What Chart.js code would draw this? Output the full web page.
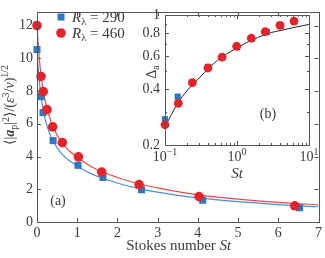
<!DOCTYPE html>
<html>
<head>
<meta charset="utf-8">
<script src="https://cdn.jsdelivr.net/npm/chart.js@4.4.1/dist/chart.umd.min.js"></script>
<style>
  html, body { margin: 0; padding: 0; background: #fff; }
  #wrap { position: relative; width: 325px; height: 258px; }
  #main { position: absolute; left: 0; top: 0; }
  #inset { position: absolute; left: 125px; top: 0; }
</style>
</head>
<body>
<div id="wrap">
  <canvas id="main" width="325" height="258"></canvas>
  <canvas id="inset" width="200" height="185"></canvas>
</div>
<script>
// main panel (a) - markers
const stBlue = [0, 0.1, 0.15, 0.4, 1.02, 1.64, 2.6, 4.12, 6.53];
const accBlue = [10.53, 7.65, 6.68, 4.97, 3.46, 2.72, 1.97, 1.33, 0.87];
const stRed = [0, 0.1, 0.155, 0.25, 0.39, 0.63, 1.03, 1.61, 2.54, 4.03, 6.41];
const accRed = [12.0, 8.89, 7.96, 6.86, 5.81, 4.85, 3.98, 3.05, 2.28, 1.55, 0.99];

// fitted curves
const fitSt = [0, 0.05, 0.1, 0.15, 0.2, 0.3, 0.4, 0.6, 0.8, 1, 1.3, 1.6, 2, 2.5, 3, 3.5, 4, 5, 6, 7];
const fitRed = [12.0, 10.2, 9.0, 8.1, 7.45, 6.5, 5.8, 4.9, 4.35, 3.95, 3.45, 3.08, 2.72, 2.35, 2.08, 1.85, 1.66, 1.4, 1.2, 1.05];
const fitBlue = [10.5, 8.8, 7.7, 6.9, 6.3, 5.5, 4.95, 4.2, 3.75, 3.42, 3.0, 2.7, 2.38, 2.05, 1.82, 1.63, 1.47, 1.24, 1.06, 0.93];

const xTicks = [0, 1, 2, 3, 4, 5, 6, 7];
const yTicks = [0, 2, 4, 6, 8, 10, 12];

// inset (b)
const dStRed = [0.1, 0.153, 0.24, 0.395, 0.62, 0.99, 1.58, 2.47, 3.95, 6.19];
const dRed = [0.257, 0.335, 0.433, 0.519, 0.593, 0.679, 0.750, 0.813, 0.880, 0.928];
const dStBlue = [0.1, 0.15, 0.4, 1.0, 1.6, 2.6, 4.1, 6.3];
const dBlue = [0.275, 0.364, 0.525, 0.675, 0.748, 0.81, 0.875, 0.925];
const dFitSt = [0.1, 0.15, 0.2, 0.3, 0.4, 0.6, 1, 1.5, 2, 3, 4, 6, 10];
const dFit = [0.25, 0.335, 0.39, 0.46, 0.515, 0.59, 0.665, 0.725, 0.76, 0.805, 0.825, 0.855, 0.89];

const insetXMajor = [0.1, 1, 10];
const insetXMinor = [0.2, 0.3, 0.4, 0.5, 0.6, 0.7, 0.8, 0.9, 2, 3, 4, 5, 6, 7, 8, 9];
const insetYMajor = [0.2, 0.4, 0.6, 0.8, 1];
const insetYMinor = [0.3, 0.5, 0.7, 0.9];

const SERIF = "'Liberation Serif', 'DejaVu Serif', serif";
const BLUE = '#2f78c2';
const RED = '#e5232b';
const BLUE_LINE = '#4b8fd2';
const RED_LINE = '#e84a50';
const TXT = '#3a3a3a';
const AXIS = '#555';

function pts(xs, ys) {
  return xs.map((x, i) => ({ x: x, y: ys[i] }));
}

// draw a run of text pieces: [text, font, dy]
function drawRich(ctx, parts, x, y, align) {
  let w = 0;
  parts.forEach(p => { ctx.font = p[1]; w += ctx.measureText(p[0]).width; });
  let cx = align === 'center' ? x - w / 2 : x;
  ctx.textAlign = 'left';
  ctx.textBaseline = 'alphabetic';
  parts.forEach(p => {
    ctx.font = p[1];
    ctx.fillText(p[0], cx, y + (p[2] || 0));
    cx += ctx.measureText(p[0]).width;
  });
}

// frame with inward ticks on all four sides
function drawFrame(chart, xMaj, xMin, yMaj, yMin, len, minLen) {
  const ctx = chart.ctx;
  const a = chart.chartArea;
  const sx = chart.scales.x, sy = chart.scales.y;
  ctx.save();
  ctx.strokeStyle = AXIS;
  ctx.lineWidth = 1;
  ctx.strokeRect(Math.round(a.left) + 0.5, Math.round(a.top) + 0.5,
    Math.round(a.right - a.left), Math.round(a.bottom - a.top));
  ctx.beginPath();
  const tickX = (v, l) => {
    const px = Math.round(sx.getPixelForValue(v)) + 0.5;
    ctx.moveTo(px, a.bottom); ctx.lineTo(px, a.bottom - l);
    ctx.moveTo(px, a.top); ctx.lineTo(px, a.top + l);
  };
  const tickY = (v, l) => {
    const py = Math.round(sy.getPixelForValue(v)) + 0.5;
    ctx.moveTo(a.left, py); ctx.lineTo(a.left + l, py);
    ctx.moveTo(a.right, py); ctx.lineTo(a.right - l, py);
  };
  xMaj.forEach(v => tickX(v, len));
  xMin.forEach(v => tickX(v, minLen));
  yMaj.forEach(v => tickY(v, len));
  yMin.forEach(v => tickY(v, minLen));
  ctx.stroke();
  ctx.restore();
}

const mainDecor = {
  id: 'mainDecor',
  afterDraw(chart) {
    drawFrame(chart, xTicks, [], yTicks, [], 4, 2);
    const ctx = chart.ctx;
    const a = chart.chartArea;
    ctx.save();
    ctx.fillStyle = TXT;
    // x title
    drawRich(ctx, [['Stokes number ', '15px ' + SERIF], ['St', 'italic 15px ' + SERIF]],
      (a.left + a.right) / 2 + 1, 250, 'center');
    // y title
    ctx.save();
    ctx.translate(14, 105);
    ctx.rotate(-Math.PI / 2);
    const N = '14px ' + SERIF, S = '10px ' + SERIF, I = 'italic 14px ' + SERIF;
    drawRich(ctx, [
      ['\u27E8|', N], ['a', 'bold italic 14px ' + SERIF], ['p', S, 3], ['|', N], ['2', S, -5],
      ['\u27E9/(', N], ['\u03B5', I], ['3', S, -5], ['/', N], ['\u03BD', I], [')', N], ['1/2', S, -6]
    ], 0, 0, 'center');
    ctx.restore();
    // legend
    ctx.fillStyle = BLUE;
    ctx.fillRect(57.5, 13.5, 7, 7);
    ctx.fillStyle = RED;
    ctx.beginPath(); ctx.arc(61, 33, 4.8, 0, Math.PI * 2); ctx.fill();
    ctx.fillStyle = TXT;
    drawRich(ctx, [['R', 'italic 15px ' + SERIF], ['\u03BB', '10.5px ' + SERIF, 3], [' = 290', '15px ' + SERIF]], 72, 22, 'left');
    drawRich(ctx, [['R', 'italic 15px ' + SERIF], ['\u03BB', '10.5px ' + SERIF, 3], [' = 460', '15px ' + SERIF]], 72, 38, 'left');
    // panel label
    drawRich(ctx, [['(a)', '14px ' + SERIF]], 58, 205, 'center');
    ctx.restore();
  }
};

new Chart(document.getElementById('main'), {
  type: 'scatter',
  data: {
    datasets: [
      { data: pts(stRed, accRed), pointStyle: 'circle', pointRadius: 4.8, backgroundColor: RED, borderWidth: 0, order: 0, clip: false },
      { data: pts(stBlue, accBlue), pointStyle: 'rect', pointRadius: 5, backgroundColor: BLUE, borderWidth: 0, order: 1, clip: false },
      { data: pts(fitSt, fitRed), showLine: true, pointRadius: 0, borderColor: RED_LINE, borderWidth: 1.2, cubicInterpolationMode: 'monotone', order: 2 },
      { data: pts(fitSt, fitBlue), showLine: true, pointRadius: 0, borderColor: BLUE_LINE, borderWidth: 1.2, cubicInterpolationMode: 'monotone', order: 3 }
    ]
  },
  options: {
    responsive: false,
    animation: false,
    layout: { padding: { top: 2, right: 4, left: 0, bottom: 0 } },
    plugins: { legend: { display: false }, tooltip: { enabled: false } },
    scales: {
      x: {
        type: 'linear', min: 0, max: 7,
        afterFit: s => { s.height = 36; },
        afterBuildTicks: s => { s.ticks = xTicks.map(v => ({ value: v })); },
        ticks: { color: TXT, font: { family: SERIF, size: 14 }, padding: 3, maxRotation: 0 },
        grid: { display: false, drawTicks: false },
        border: { display: false }
      },
      y: {
        type: 'linear', min: 0, max: 12.8,
        afterFit: s => { s.width = 37; },
        afterBuildTicks: s => { s.ticks = yTicks.map(v => ({ value: v })); },
        ticks: { color: TXT, font: { family: SERIF, size: 14 }, padding: 4 },
        grid: { display: false, drawTicks: false },
        border: { display: false }
      }
    }
  },
  plugins: [mainDecor]
});

const insetDecor = {
  id: 'insetDecor',
  afterDraw(chart) {
    drawFrame(chart, insetXMajor, insetXMinor, insetYMajor, insetYMinor, 4, 2);
    const ctx = chart.ctx;
    const a = chart.chartArea;
    const sx = chart.scales.x;
    ctx.save();
    ctx.fillStyle = TXT;
    // x tick labels 10^k
    [-1, 0, 1].forEach(k => {
      const px = sx.getPixelForValue(Math.pow(10, k));
      drawRich(ctx, [['10', '14px ' + SERIF], [k < 0 ? '\u2212' + (-k) : String(k), '10px ' + SERIF, -6]],
        px, a.bottom + 16, 'center');
    });
    drawRich(ctx, [['St', 'italic 15px ' + SERIF]], (a.left + a.right) / 2, 178, 'center');
    ctx.save();
    ctx.translate(31, 72);
    ctx.rotate(-Math.PI / 2);
    drawRich(ctx, [['\u0394', '14px ' + SERIF], ['a', '10px ' + SERIF, 3]], 0, 0, 'center');
    ctx.restore();
    drawRich(ctx, [['(b)', '14px ' + SERIF]], 143, 118, 'center');
    ctx.restore();
  }
};

new Chart(document.getElementById('inset'), {
  type: 'scatter',
  data: {
    datasets: [
      { data: pts(dStRed, dRed), pointStyle: 'circle', pointRadius: 4.4, backgroundColor: RED, borderWidth: 0, order: 0, clip: false },
      { data: pts(dStBlue, dBlue), pointStyle: 'rect', pointRadius: 4.4, backgroundColor: BLUE, borderWidth: 0, order: 1, clip: false },
      { data: pts(dFitSt, dFit), showLine: true, pointRadius: 0, borderColor: '#222', borderWidth: 1, cubicInterpolationMode: 'monotone', order: 2 }
    ]
  },
  options: {
    responsive: false,
    animation: false,
    layout: { padding: { top: 15, right: 16, left: 0, bottom: 0 } },
    plugins: { legend: { display: false }, tooltip: { enabled: false } },
    scales: {
      x: {
        type: 'logarithmic', min: 0.1, max: 10,
        afterFit: s => { s.height = 40; },
        ticks: { display: false },
        grid: { display: false, drawTicks: false },
        border: { display: false }
      },
      y: {
        type: 'logarithmic', min: 0.2, max: 1,
        afterFit: s => { s.width = 40; },
        afterBuildTicks: s => { s.ticks = insetYMajor.map(v => ({ value: v })); },
        ticks: { color: TXT, font: { family: SERIF, size: 14 }, padding: 5, callback: v => String(v) },
        grid: { display: false, drawTicks: false },
        border: { display: false }
      }
    }
  },
  plugins: [insetDecor]
});
</script>
</body>
</html>
